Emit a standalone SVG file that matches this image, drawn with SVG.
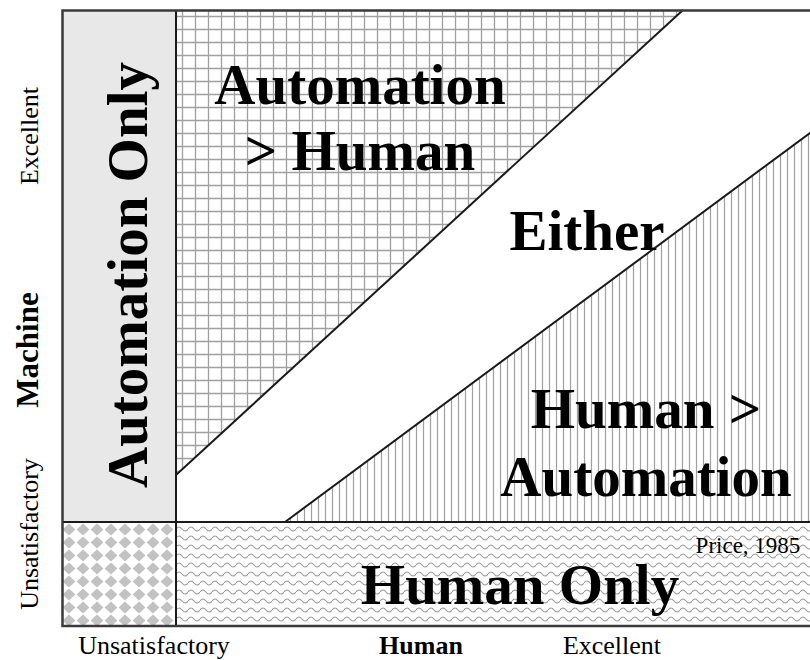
<svg xmlns="http://www.w3.org/2000/svg" width="810" height="660" viewBox="0 0 810 660">
<defs>
<pattern id="grid" patternUnits="userSpaceOnUse" x="176" y="10" width="13" height="13">
<rect width="13" height="13" fill="#fff"/>
<path d="M6.5 0V13M0 6.5H13" stroke="#a0a0a0" stroke-width="1.3" fill="none"/>
</pattern>
<pattern id="vhatch" patternUnits="userSpaceOnUse" x="0" y="0" width="7" height="10">
<rect width="7" height="10" fill="#fff"/>
<path d="M3.5 0V10" stroke="#a0a0a0" stroke-width="1.2"/>
</pattern>
<pattern id="waves" patternUnits="userSpaceOnUse" x="176" y="524" width="12" height="9">
<rect width="12" height="9" fill="#fff"/>
<path d="M0 5 Q3 1 6 5 T12 5" stroke="#9c9c9c" stroke-width="1.1" fill="none"/>
</pattern>
<pattern id="diam" patternUnits="userSpaceOnUse" x="62" y="523" width="14" height="13">
<rect width="14" height="13" fill="#fff"/>
<polygon points="7,0.6 13.4,6.5 7,12.4 0.6,6.5" fill="#c2c2c2"/>
</pattern>
</defs>
<style>
.big{font-family:"Liberation Serif","Times New Roman",serif;font-weight:bold;font-size:57px;fill:#000;text-anchor:middle}
.ax{font-family:"Liberation Serif","Times New Roman",serif;font-size:26px;fill:#000;text-anchor:middle}
.axb{font-family:"Liberation Serif","Times New Roman",serif;font-size:26px;font-weight:bold;fill:#000;text-anchor:middle}
.edge{stroke:#1a1a1a;stroke-width:2;fill:none}
.frame{stroke:#3a3a3a;stroke-width:2.5;fill:none}
</style>
<g id="regions">
<rect x="62" y="10" width="114" height="512" fill="#e8e8e8"/>
<rect x="62" y="522" width="114" height="104" fill="url(#diam)"/>
<rect x="176" y="522" width="640" height="104" fill="url(#waves)"/>
<rect x="176" y="10" width="640" height="512" fill="#fff"/>
<polygon id="region-auto-gt-human" points="176,10 683,10 176,475" fill="url(#grid)"/>
<polygon id="region-human-gt-auto" points="285,522 810,133 810,522" fill="url(#vhatch)"/>
</g>
<g id="connectors">
<line class="edge" x1="176" y1="475" x2="683" y2="10"/>
<line class="edge" x1="285" y1="522" x2="812" y2="131.5"/>
<line class="edge" x1="62" y1="522" x2="810" y2="522"/>
<line class="edge" x1="176" y1="10" x2="176" y2="626"/>
<path class="frame" d="M810 10.5H62.5V626H810"/>
</g>
<g id="automation-only"><text class="big" transform="translate(147,275) rotate(-90)">Automation Only</text></g>
<g id="automation-gt-human"><text class="big" x="360" y="104">Automation</text><text class="big" x="360" y="170">&gt; Human</text></g>
<g id="either"><text class="big" x="587" y="250">Either</text></g>
<g id="human-gt-automation"><text class="big" x="646" y="428">Human &gt;</text><text class="big" x="646" y="496">Automation</text></g>
<g id="human-only"><text class="big" x="520" y="604">Human Only</text></g>
<g id="citation"><text class="ax" x="748" y="553" style="font-size:23px">Price, 1985</text></g>
<g id="axis-x">
<text class="ax" x="154" y="654">Unsatisfactory</text>
<text class="axb" x="421" y="654">Human</text>
<text class="ax" x="612" y="654">Excellent</text>
</g>
<g id="axis-y">
<text class="ax" transform="translate(38,136) rotate(-90)">Excellent</text>
<text class="axb" transform="translate(38,350) rotate(-90)" style="font-size:31px">Machine</text>
<text class="ax" transform="translate(38,534) rotate(-90)">Unsatisfactory</text>
</g>
</svg>
